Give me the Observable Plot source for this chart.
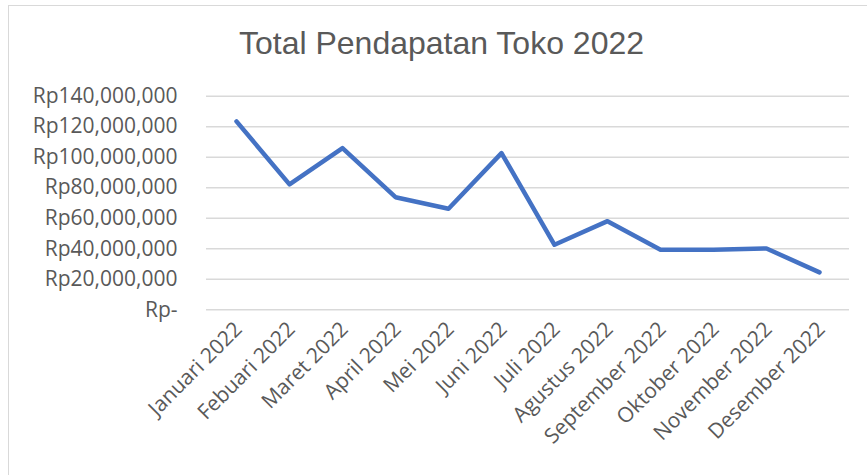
<!DOCTYPE html>
<html>
<head>
<meta charset="utf-8">
<script src="https://cdn.jsdelivr.net/npm/d3@7"></script>
<script src="https://cdn.jsdelivr.net/npm/@observablehq/plot@0.6"></script>
<style>
  html, body { margin: 0; padding: 0; background: #fff; }
  #wrap { position: relative; width: 867px; height: 475px; overflow: hidden; background: #fff; }
  #frame { position: absolute; left: 8px; top: 5px; width: 900px; height: 500px; border-left: 1.5px solid #d9d9d9; border-top: 1.5px solid #d9d9d9; box-sizing: border-box; }
  #title { position: absolute; left: 0; top: 23px; width: 883px; text-align: center; font-family: "Liberation Sans", Arial, sans-serif; font-size: 32px; color: #595959; line-height: 40px; white-space: nowrap; }
  #chart { position: absolute; left: 0; top: 0; }
  #chart svg text { font-family: "Open Sans", sans-serif !important; }
</style>
</head>
<body>
<div id="wrap">
  <div id="frame"></div>
  <div id="title">Total Pendapatan Toko 2022</div>
  <div id="chart"></div>
</div>
<script>
const months = ["Januari 2022", "Febuari 2022", "Maret 2022", "April 2022", "Mei 2022", "Juni 2022",
  "Juli 2022", "Agustus 2022", "September 2022", "Oktober 2022", "November 2022", "Desember 2022"];
const revenue = [123500000, 82200000, 106000000, 73800000, 66200000, 102700000,
  42600000, 58100000, 39300000, 39300000, 40200000, 24500000];
const yTicks = [0, 20000000, 40000000, 60000000, 80000000, 100000000, 120000000, 140000000];

const data = months.map((m, i) => ({month: m, value: revenue[i]}));
const fmt = d3.format(",");

const plot = Plot.plot({
  width: 867,
  height: 475,
  marginLeft: 206,
  marginRight: 18,
  marginTop: 95.7,
  marginBottom: 165.7,
  style: {fontFamily: "Open Sans, sans-serif", fontSize: "21px", color: "#595959", background: "transparent"},
  x: {type: "point", domain: months, padding: 0.5, label: null},
  y: {domain: [0, 140000000], label: null},
  marks: [
    Plot.gridY(yTicks, {stroke: "#d9d9d9", strokeOpacity: 1, strokeWidth: 1.5}),
    Plot.axisY(yTicks, {tickSize: 0, tickPadding: 29, tickFormat: d => d === 0 ? "Rp-" : "Rp" + fmt(d), fill: "#595959", fontSize: 21}),
    Plot.axisX(months, {tickSize: 0, tickRotate: -45, tickPadding: 0, dy: 16, dx: 2, fill: "#595959", fontSize: 21}),
    Plot.line(data, {x: "month", y: "value", stroke: "#4472C4", strokeWidth: 4.5, strokeLinejoin: "round", strokeLinecap: "round"})
  ]
});
document.getElementById("chart").appendChild(plot);
</script>
</body>
</html>
